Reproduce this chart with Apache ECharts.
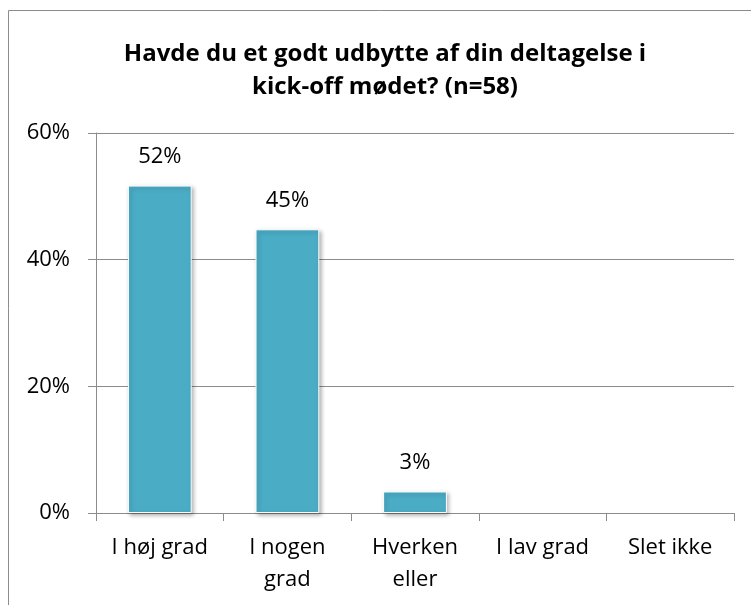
<!DOCTYPE html>
<html>
<head>
<meta charset="utf-8">
<script src="https://cdn.jsdelivr.net/npm/echarts@6/dist/echarts.min.js"></script>
<style>html,body{margin:0;padding:0;background:#fff;}#c{width:751px;height:605px;}</style>
</head>
<body>
<div id="c"></div>
<script>
const categories = ['I høj grad', 'I nogen\ngrad', 'Hverken\neller', 'I lav grad', 'Slet ikke'];
const values = [51.7, 44.8, 3.4, 0, 0];
const yTicks = [0, 20, 40, 60];
const titleText = 'Havde du et godt udbytte af din deltagelse i\nkick-off mødet? (n=58)';

const chart = echarts.init(document.getElementById('c'));
const font = '"Open Sans", sans-serif';
const barStyle = {
  color: '#4BACC6', borderColor: '#fff', borderWidth: 1,
  shadowBlur: 4, shadowColor: 'rgba(0,0,0,0.3)', shadowOffsetX: 2, shadowOffsetY: 2
};
chart.setOption({
  animation: false,
  backgroundColor: '#fff',
  graphic: [{
    type: 'rect', left: 6, top: 8, shape: { width: 800, height: 700 },
    style: { fill: 'none', stroke: '#8c8c8c', lineWidth: 1 }, silent: true
  }],
  title: {
    text: titleText, left: 380, top: 33, textAlign: 'center',
    textStyle: { fontFamily: font, fontWeight: 'bold', fontSize: 24, lineHeight: 33, color: '#000' }
  },
  grid: { left: 96, right: 17, top: 133, bottom: 92 },
  xAxis: {
    type: 'category', data: categories,
    axisLine: { lineStyle: { color: '#8c8c8c', width: 1 } },
    axisTick: { show: true, length: 8, lineStyle: { color: '#8c8c8c' } },
    axisLabel: { interval: 0, fontFamily: font, fontSize: 22, color: '#000', lineHeight: 32, margin: 19 }
  },
  yAxis: {
    type: 'value', min: yTicks[0], max: yTicks[yTicks.length - 1], interval: 20,
    axisLine: { show: true, lineStyle: { color: '#8c8c8c', width: 1 } },
    axisTick: { show: true, length: 8, lineStyle: { color: '#8c8c8c' } },
    splitLine: { lineStyle: { color: '#8c8c8c', width: 1 } },
    axisLabel: { fontFamily: font, fontSize: 22, color: '#000', margin: 26, formatter: v => v + '%' }
  },
  series: [{
    type: 'bar', barWidth: '50%',
    data: values.map(v => ({ value: v, itemStyle: v > 0 ? barStyle : { opacity: 0 } })),
    label: {
      show: true, position: 'top', distance: 18,
      fontFamily: font, fontSize: 22, color: '#000',
      formatter: p => p.value > 0 ? Math.round(p.value) + '%' : ''
    }
  }]
});
</script>
</body>
</html>
